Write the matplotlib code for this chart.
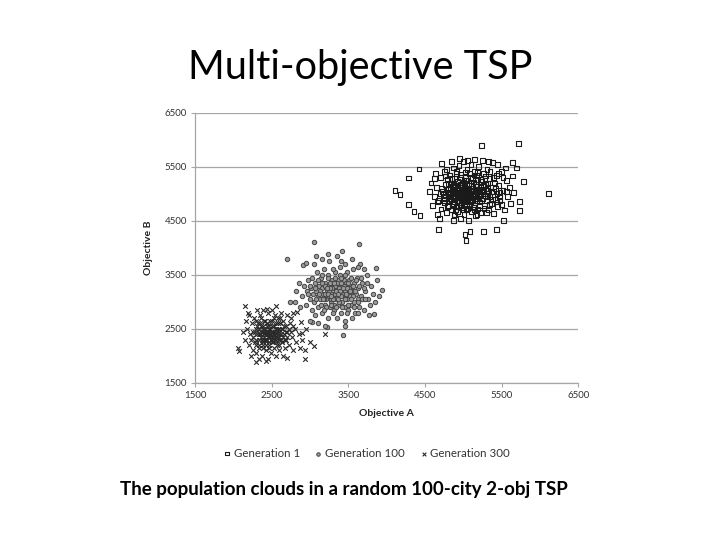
import matplotlib
matplotlib.use("Agg")
import matplotlib.pyplot as plt

# ---------------- data ----------------
gen1_pts = [
    (5239, 5900), (5717, 5931), (6109, 5003), (4109, 5064), (4174, 4984), (4283, 5293),
    (4283, 4798), (4357, 4675), (4435, 4600), (4422, 5460), (4674, 4347), (5035, 4130),
    (5022, 4241), (5261, 4297), (5435, 4347), (5522, 4507), (5731, 4693), (5731, 4860),
    (5783, 5232), (5644, 5584), (5696, 5479), (4870, 4507), (5087, 4303),
    (4620, 4950), (4650, 5120), (4680, 4880), (4700, 5300), (4710, 4720), (4730, 5050),
    (4740, 4990), (4750, 5420), (4760, 4830), (4770, 5180), (4780, 4660), (4790, 5260),
    (4800, 4950), (4805, 5090), (4810, 4780), (4820, 5350), (4830, 5010), (4840, 4890),
    (4845, 5200), (4850, 4700), (4860, 5130), (4865, 4960), (4870, 5480), (4875, 4820),
    (4880, 5060), (4885, 4610), (4890, 5290), (4895, 4930), (4900, 5150), (4905, 4760),
    (4910, 5010), (4915, 5380), (4920, 4870), (4925, 5230), (4930, 4680), (4935, 5070),
    (4940, 4980), (4945, 5520), (4950, 4840), (4955, 5160), (4960, 4550), (4965, 5300),
    (4970, 4920), (4975, 5040), (4980, 4740), (4985, 5210), (4990, 5090), (4995, 4890),
    (5000, 5600), (5005, 4980), (5010, 4620), (5015, 5140), (5020, 4810), (5025, 5330),
    (5030, 5020), (5035, 4700), (5040, 5250), (5045, 4950), (5050, 5450), (5055, 4860),
    (5060, 5100), (5065, 4500), (5070, 5190), (5075, 4930), (5080, 5380), (5085, 4780),
    (5090, 5060), (5095, 4990), (5100, 5550), (5105, 4670), (5110, 5150), (5115, 4880),
    (5120, 5290), (5125, 5010), (5130, 4740), (5135, 5220), (5140, 4950), (5145, 5420),
    (5150, 4830), (5155, 5080), (5160, 4600), (5165, 5180), (5170, 4910), (5175, 5340),
    (5180, 5030), (5185, 4720), (5190, 5260), (5195, 4970), (5200, 5500), (5210, 4850),
    (5220, 5120), (5230, 4650), (5240, 5230), (5250, 4920), (5260, 5380), (5270, 5040),
    (5280, 4780), (5290, 5170), (5300, 4880), (5310, 5450), (5320, 5000), (5330, 4700),
    (5340, 5280), (5350, 4950), (5360, 5120), (5370, 4820), (5380, 5580), (5390, 5050),
    (5400, 4630), (5410, 5200), (5420, 4900), (5430, 5340), (5440, 5010), (5450, 4760),
    (5460, 5150), (5480, 4870), (5500, 5420), (5520, 5060), (5540, 4700), (5560, 5250),
    (5580, 4950), (5600, 5120), (5620, 4820), (5640, 5330), (4580, 5200), (4600, 4780),
    (4560, 5050), (4640, 5380), (4660, 4620), (4720, 5560), (4690, 4540), (5450, 5550),
    (5550, 5480), (5660, 5020), (4850, 5600), (4950, 5650), (5060, 5620), (5150, 5640),
    (5250, 5620), (5330, 5600),
    (4900, 5000), (4950, 5060), (5000, 4950), (5050, 5030), (5100, 4980), (4980, 5120),
    (5020, 4880), (4920, 4940), (5070, 5080), (5130, 5050), (4870, 5020), (5160, 4990),
    (4960, 5180), (5040, 4800), (4890, 4860), (5110, 4900), (5180, 5140), (4830, 5100),
    (5010, 5250), (4940, 4780), (5200, 4950), (5250, 5080), (5280, 4960), (5300, 5060),
    (5230, 4990), (4820, 5000), (4790, 5080), (4760, 4930),
    (4720, 5100), (4740, 4870), (4770, 5330), (4790, 4760), (4810, 5190), (4830, 4910),
    (4850, 5290), (4860, 4800), (4880, 5170), (4900, 4700), (4910, 5420), (4930, 5110),
    (4950, 4960), (4960, 5360), (4970, 4800), (4990, 5200), (5000, 4850), (5010, 5060),
    (5030, 5400), (5040, 4920), (5050, 5170), (5060, 4730), (5080, 5000), (5090, 5300),
    (5100, 4850), (5120, 5100), (5130, 4960), (5140, 5350), (5150, 4710), (5170, 5060),
    (5180, 4880), (5190, 5400), (5200, 5070), (5210, 4780), (5220, 5270), (5240, 4870),
    (5260, 5150), (5270, 4730), (5290, 5330), (5310, 4950), (5320, 5200), (5340, 4800),
    (5350, 5420), (5370, 5050), (5380, 4900), (5400, 5300), (5420, 5100), (5440, 4850),
    (5460, 5380), (5480, 5020), (5500, 4800), (5520, 5300), (4980, 5010), (5020, 5080),
    (4930, 5020), (5070, 4960), (4970, 4990), (5110, 5040), (5060, 5020), (4990, 4930),
    (5150, 5010), (4870, 4940), (5210, 5040), (4800, 5030), (5320, 5100), (4700, 5000),
    (4660, 4850), (4780, 5450), (4880, 4620), (5000, 4700), (5180, 4620), (5300, 4650),
    (5470, 4950), (5560, 5050), (4620, 5280),
]

gen100_pts = [
    (3057, 4105), (3644, 4074), (2704, 3796), (3413, 3951), (3231, 3895), (3078, 3858),
    (3935, 3220), (3861, 3623), (3839, 2769), (3774, 2756), (3435, 2385), (3457, 2552),
    (3218, 2540), (3022, 2633), (2804, 3004), (2739, 3004), (2913, 3684), (2944, 3715),
    (2900, 3100), (2920, 3300), (2950, 2950), (2960, 3200), (2980, 3400), (3000, 3050),
    (3010, 3250), (3020, 2850), (3030, 3450), (3040, 3150), (3050, 3000), (3060, 3350),
    (3070, 2750), (3080, 3200), (3090, 3550), (3100, 3100), (3110, 2900), (3120, 3300),
    (3130, 3050), (3140, 3450), (3150, 2800), (3160, 3250), (3170, 3150), (3180, 3600),
    (3190, 2950), (3200, 3350), (3210, 3050), (3220, 3200), (3230, 2700), (3240, 3500),
    (3250, 3100), (3260, 2900), (3270, 3300), (3280, 3000), (3290, 3400), (3300, 3150),
    (3310, 2850), (3320, 3250), (3330, 3550), (3340, 3050), (3350, 3200), (3360, 2950),
    (3370, 3350), (3380, 3100), (3390, 3650), (3400, 2800), (3410, 3250), (3420, 3000),
    (3430, 3450), (3440, 3150), (3450, 2900), (3460, 3300), (3470, 3050), (3480, 3550),
    (3490, 3200), (3500, 2850), (3510, 3400), (3520, 3100), (3530, 2950), (3540, 3300),
    (3550, 3200), (3560, 3600), (3570, 3000), (3580, 3350), (3590, 2800), (3600, 3150),
    (3610, 3450), (3620, 3050), (3630, 3250), (3640, 2900), (3650, 3700), (3660, 3100),
    (3680, 3350), (3700, 2850), (3720, 3200), (3740, 3500), (3760, 3050), (3780, 2950),
    (3800, 3300), (3820, 3150), (3850, 3000), (3870, 3400), (3900, 3100), (2850, 3350),
    (2870, 2900), (2820, 3200), (3000, 2650), (3100, 2600), (3200, 2550), (3350, 2700),
    (3450, 2650), (3550, 2700), (3050, 3700), (3150, 3800), (3250, 3750), (3350, 3850),
    (3450, 3700), (3550, 3800), (3620, 3650), (3700, 3600), (3300, 3600), (3400, 3750),
    (3250, 3200), (3300, 3250), (3350, 3100), (3400, 3300), (3450, 3200), (3200, 3150),
    (3280, 3350), (3380, 3000), (3420, 3150), (3480, 3050), (3330, 3300), (3270, 3050),
    (3360, 3400), (3230, 3300), (3510, 3250), (3180, 3050), (3150, 3350), (3440, 3400),
    (3310, 2950), (3470, 3350), (3560, 3100), (3130, 3200), (3390, 3500), (3290, 3150),
    (3060, 3250), (3080, 3050), (3100, 3400), (3120, 3150), (3140, 2950), (3160, 3500),
    (3170, 3050), (3190, 3300), (3210, 2900), (3230, 3450), (3240, 3150), (3260, 3350),
    (3270, 2950), (3290, 3250), (3300, 3050), (3320, 3450), (3330, 3150), (3340, 2900),
    (3350, 3350), (3370, 3050), (3380, 3250), (3400, 3450), (3410, 3100), (3420, 2900),
    (3440, 3300), (3450, 3050), (3460, 3500), (3480, 3250), (3490, 2950), (3500, 3350),
    (3520, 3200), (3530, 3450), (3540, 3050), (3560, 3300), (3570, 2900), (3590, 3200),
    (3600, 3400), (3620, 3000), (3640, 3300), (3660, 3450), (3680, 3050), (3700, 3250),
    (3260, 3250), (3340, 3200), (3390, 3200), (3310, 3350), (3430, 3250), (3360, 3150),
    (3280, 3100), (3410, 3350), (3220, 3250), (3470, 3150), (3000, 3300), (2980, 3150),
    (3750, 3350), (3720, 3050), (3180, 2850), (3300, 2800), (3480, 2800), (3620, 2800),
]

gen300_pts = [
    (2152, 2930), (2552, 2930), (2065, 2150), (2074, 2088), (2296, 1890), (2422, 1910),
    (2704, 1952), (2935, 1933), (3052, 2187), (2935, 2106), (2883, 2633), (2900, 2416),
    (3196, 2404), (2783, 2800), (2826, 2818), (2304, 2849), (2196, 2800), (2435, 2862),
    (2150, 2300), (2180, 2500), (2200, 2200), (2220, 2400), (2240, 2600), (2250, 2100),
    (2260, 2350), (2270, 2700), (2280, 2250), (2290, 2500), (2300, 2050), (2310, 2400),
    (2320, 2600), (2330, 2150), (2340, 2300), (2350, 2750), (2360, 2450), (2370, 2000),
    (2380, 2550), (2390, 2200), (2400, 2350), (2410, 2650), (2420, 2100), (2430, 2450),
    (2440, 2300), (2450, 2800), (2460, 2200), (2470, 2550), (2480, 2400), (2490, 2050),
    (2500, 2650), (2510, 2300), (2520, 2450), (2530, 2150), (2540, 2750), (2550, 2350),
    (2560, 2500), (2570, 2200), (2580, 2600), (2590, 2400), (2600, 2100), (2610, 2700),
    (2620, 2300), (2630, 2500), (2640, 2250), (2650, 2650), (2660, 2400), (2670, 2150),
    (2680, 2550), (2690, 2300), (2700, 2450), (2720, 2200), (2740, 2600), (2760, 2350),
    (2780, 2100), (2800, 2500), (2820, 2250), (2850, 2400), (2870, 2150), (2900, 2300),
    (2950, 2500), (3000, 2250), (2230, 2000), (2330, 1950), (2450, 1950), (2560, 2000),
    (2650, 2000), (2120, 2450), (2170, 2650), (2200, 2750), (2380, 2850), (2500, 2850),
    (2620, 2800), (2700, 2750), (2750, 2700),
    (2400, 2400), (2450, 2450), (2500, 2350), (2550, 2400), (2420, 2300), (2480, 2500),
    (2530, 2550), (2380, 2450), (2460, 2350), (2510, 2450), (2440, 2550), (2560, 2300),
    (2360, 2350), (2470, 2250), (2590, 2500), (2340, 2500), (2410, 2500), (2520, 2250),
    (2600, 2350), (2390, 2250), (2430, 2400), (2490, 2300), (2570, 2450), (2350, 2400),
    (2280, 2450), (2300, 2300), (2310, 2550), (2330, 2400), (2340, 2200), (2350, 2600),
    (2370, 2300), (2380, 2150), (2390, 2500), (2400, 2650), (2410, 2300), (2420, 2450),
    (2430, 2200), (2440, 2600), (2450, 2350), (2460, 2500), (2470, 2150), (2480, 2650),
    (2490, 2450), (2500, 2250), (2510, 2550), (2520, 2350), (2530, 2700), (2540, 2450),
    (2550, 2250), (2560, 2600), (2570, 2350), (2580, 2500), (2590, 2200), (2600, 2450),
    (2610, 2600), (2620, 2400), (2630, 2250), (2640, 2500), (2650, 2350), (2660, 2550),
    (2670, 2300), (2680, 2450), (2700, 2350), (2720, 2500), (2440, 2400), (2470, 2400),
    (2500, 2450), (2420, 2380), (2520, 2400), (2460, 2450), (2480, 2350), (2540, 2350),
    (2400, 2300), (2550, 2500), (2360, 2550), (2600, 2300), (2300, 2200), (2260, 2450),
    (2750, 2450), (2780, 2550), (2230, 2300), (2360, 2700), (2580, 2700), (2300, 2650),
]

series_labels = ["Generation 1", "Generation 100", "Generation 300"]
x_ticks = [1500, 2500, 3500, 4500, 5500, 6500]
y_ticks = [1500, 2500, 3500, 4500, 5500, 6500]

# ---------------- figure ----------------
FONT = "Lato"
fig = plt.figure(figsize=(7.2, 5.4), dpi=100)
fig.patch.set_facecolor("white")

fig.text(0.5, 0.875, "Multi-objective TSP", ha="center", va="center",
         fontsize=28.5, family=FONT, color="black")
fig.text(0.478, 0.093, "The population clouds in a random 100-city 2-obj TSP",
         ha="center", va="center", fontsize=13.5, family=FONT,
         fontweight="bold", color="black")

ax = fig.add_axes([0.271, 0.291, 0.532, 0.500])

g1x = [p[0] for p in gen1_pts]; g1y = [p[1] for p in gen1_pts]
g2x = [p[0] for p in gen100_pts]; g2y = [p[1] for p in gen100_pts]
g3x = [p[0] for p in gen300_pts]; g3y = [p[1] for p in gen300_pts]

ax.scatter(g1x, g1y, marker="s", s=12, facecolors="none", edgecolors="#1a1a1a",
           linewidths=0.8, label=series_labels[0], zorder=3)
ax.scatter(g2x, g2y, marker="o", s=10, facecolors="#9a9a9a", edgecolors="#454545",
           linewidths=0.7, label=series_labels[1], zorder=3)
ax.scatter(g3x, g3y, marker="x", s=11, color="#2a2a2a",
           linewidths=0.8, label=series_labels[2], zorder=3)

ax.set_xlim(1500, 6500)
ax.set_ylim(1500, 6500)
ax.set_xticks(x_ticks)
ax.set_yticks(y_ticks)
ax.set_xticklabels([str(v) for v in x_ticks])
ax.set_yticklabels([str(v) for v in y_ticks])
ax.grid(axis="y", color="#a6a6a6", linewidth=0.9)
ax.set_axisbelow(True)
for s in ["top", "right"]:
    ax.spines[s].set_visible(False)
for s in ["left", "bottom"]:
    ax.spines[s].set_color("#a6a6a6")
    ax.spines[s].set_linewidth(0.9)
ax.tick_params(axis="both", length=3, color="#a6a6a6", labelsize=7,
               labelcolor="#333333", pad=3)
for lab in ax.get_xticklabels() + ax.get_yticklabels():
    lab.set_family(FONT)

ax.set_xlabel("Objective A", fontsize=7.5, fontweight="bold", family=FONT,
              color="#222222", labelpad=6)
ax.set_ylabel("Objective B", fontsize=7.5, fontweight="bold", family=FONT,
              color="#222222", labelpad=8)

leg = fig.legend(loc="center", bbox_to_anchor=(0.507, 0.161), ncol=3,
                 frameon=False, prop={"family": FONT, "size": 8.3},
                 handletextpad=0.0, columnspacing=1.0, markerscale=0.8,
                 handlelength=1.2)
for t in leg.get_texts():
    t.set_color("#333333")

fig.savefig("out.png", dpi=100, facecolor="white")
